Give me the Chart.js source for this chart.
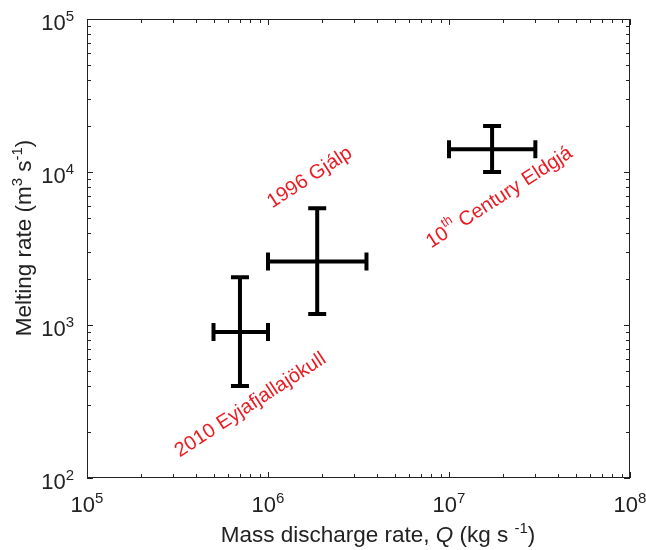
<!DOCTYPE html>
<html>
<head>
<meta charset="utf-8">
<script src="https://cdn.jsdelivr.net/npm/chart.js@4"></script>
<style>
  html, body { margin: 0; padding: 0; background: #fff; }
  #wrap { width: 646px; height: 550px; }
</style>
</head>
<body>
<div id="wrap"><canvas id="meltChart" width="646" height="550"></canvas></div>
<script>
// eruptions, mass discharge rate Q (kg/s) and melting rate (m3/s)
const events = ['2010 Eyjafjallajökull', '1996 Gjálp', '10th Century Eldgjá'];
const qMid = [7.0e5, 1.87e6, 1.73e7];
const qLow = [5.0e5, 1.0e6, 1.0e7];
const qHigh = [1.0e6, 3.5e6, 3.0e7];
const meltMid = [900, 2600, 14100];
const meltLow = [400, 1180, 10000];
const meltHigh = [2050, 5800, 20000];

// where the red event names sit, in data units
const labelQ = [8.0e5, 1.7e6, 1.9e7];
const labelMelt = [300, 9200, 6800];

const xTicks = [1e5, 1e6, 1e7, 1e8];
const yTicks = [1e2, 1e3, 1e4, 1e5];
const xTickLabels = [['10', '5'], ['10', '6'], ['10', '7'], ['10', '8']];
const yTickLabels = [['10', '2'], ['10', '3'], ['10', '4'], ['10', '5']];

const FONT = '"Liberation Sans", Arial, Helvetica, sans-serif';
const INK = '#222';
const RED = '#ec1c24';

function minorValues(min, max) {
    var out = [];
    for (var p = Math.floor(Math.log10(min)); p < Math.log10(max); p++) {
        for (var m = 2; m <= 9; m++) {
            var v = m * Math.pow(10, p);
            if (v > min && v < max) out.push(v);
        }
    }
    return out;
}

// pieces are [text, kind]: 'n' normal, 'i' italic, 's' superscript
function fontFor(kind, size) {
    if (kind === 's') return Math.round(size * 0.66) + 'px ' + FONT;
    if (kind === 'i') return 'italic ' + size + 'px ' + FONT;
    return size + 'px ' + FONT;
}
function pieceWidth(ctx, pieces, size) {
    var w = 0;
    pieces.forEach(function (p) {
        ctx.font = fontFor(p[1], size);
        w += ctx.measureText(p[0]).width;
    });
    return w;
}
function drawPieces(ctx, pieces, x, y, size) {
    pieces.forEach(function (p) {
        ctx.font = fontFor(p[1], size);
        var dy = p[1] === 's' ? -size * 0.42 : 0;
        ctx.fillText(p[0], x, y + dy);
        x += ctx.measureText(p[0]).width;
    });
}

const errorBars = {
    id: 'errorBars',
    afterDatasetsDraw(chart) {
        const ctx = chart.ctx, xs = chart.scales.x, ys = chart.scales.y;
        ctx.save();
        ctx.strokeStyle = '#000';
        ctx.lineWidth = 4;
        for (var i = 0; i < qMid.length; i++) {
            var cx = xs.getPixelForValue(qMid[i]), cy = ys.getPixelForValue(meltMid[i]);
            var x0 = xs.getPixelForValue(qLow[i]), x1 = xs.getPixelForValue(qHigh[i]);
            var y0 = ys.getPixelForValue(meltLow[i]), y1 = ys.getPixelForValue(meltHigh[i]);
            var cap = 9;
            ctx.beginPath();
            ctx.moveTo(x0, cy); ctx.lineTo(x1, cy);
            ctx.moveTo(x0, cy - cap); ctx.lineTo(x0, cy + cap);
            ctx.moveTo(x1, cy - cap); ctx.lineTo(x1, cy + cap);
            ctx.moveTo(cx, y0); ctx.lineTo(cx, y1);
            ctx.moveTo(cx - cap, y0); ctx.lineTo(cx + cap, y0);
            ctx.moveTo(cx - cap, y1); ctx.lineTo(cx + cap, y1);
            ctx.stroke();
        }
        ctx.restore();
    }
};

const frameAndText = {
    id: 'frameAndText',
    afterDraw(chart) {
        const ctx = chart.ctx, xs = chart.scales.x, ys = chart.scales.y;
        const a = chart.chartArea;
        ctx.save();
        ctx.strokeStyle = INK;
        ctx.lineWidth = 1;
        ctx.strokeRect(a.left + 0.5, a.top + 0.5, a.right - a.left - 1, a.bottom - a.top - 1);

        // inward ticks on all four sides
        ctx.beginPath();
        function xt(v, len) {
            var px = Math.round(xs.getPixelForValue(v)) + 0.5;
            ctx.moveTo(px, a.bottom); ctx.lineTo(px, a.bottom - len);
            ctx.moveTo(px, a.top); ctx.lineTo(px, a.top + len);
        }
        function yt(v, len) {
            var py = Math.round(ys.getPixelForValue(v)) + 0.5;
            ctx.moveTo(a.left, py); ctx.lineTo(a.left + len, py);
            ctx.moveTo(a.right, py); ctx.lineTo(a.right - len, py);
        }
        xTicks.forEach(function (v) { xt(v, 6); });
        minorValues(xTicks[0], xTicks[xTicks.length - 1]).forEach(function (v) { xt(v, 4); });
        yTicks.forEach(function (v) { yt(v, 6); });
        minorValues(yTicks[0], yTicks[yTicks.length - 1]).forEach(function (v) { yt(v, 4); });
        ctx.stroke();

        // tick labels
        ctx.fillStyle = INK;
        ctx.textBaseline = 'alphabetic';
        ctx.textAlign = 'left';
        var ts = 22;
        xTicks.forEach(function (v, i) {
            var pcs = [[xTickLabels[i][0], 'n'], [xTickLabels[i][1], 's']];
            var w = pieceWidth(ctx, pcs, ts);
            drawPieces(ctx, pcs, xs.getPixelForValue(v) - w / 2, a.bottom + 34, ts);
        });
        yTicks.forEach(function (v, i) {
            var pcs = [[yTickLabels[i][0], 'n'], [yTickLabels[i][1], 's']];
            var w = pieceWidth(ctx, pcs, ts);
            drawPieces(ctx, pcs, a.left - 13 - w, ys.getPixelForValue(v) + 11, ts);
        });

        // axis titles
        var as = 22.5;
        var xt1 = [['Mass discharge rate, ', 'n'], ['Q', 'i'], [' (kg s ', 'n'], ['-1', 's'], [')', 'n']];
        var w1 = pieceWidth(ctx, xt1, as);
        drawPieces(ctx, xt1, 378 - w1 / 2, 542, as);

        var yt1 = [['Melting rate (m', 'n'], ['3', 's'], [' s', 'n'], ['-1', 's'], [')', 'n']];
        var w2 = pieceWidth(ctx, yt1, as);
        ctx.save();
        ctx.translate(31, 238);
        ctx.rotate(-Math.PI / 2);
        drawPieces(ctx, yt1, -w2 / 2, 0, as);
        ctx.restore();

        // red event names along the diagonal
        ctx.fillStyle = RED;
        ctx.textBaseline = 'middle';
        var ls = 20;
        var names = [
            [['2010 Eyjafjallajökull', 'n']],
            [['1996 Gjálp', 'n']],
            [['10', 'n'], ['th', 's'], [' Century Eldgjá', 'n']]
        ];
        names.forEach(function (pcs, i) {
            var w = pieceWidth(ctx, pcs, ls);
            ctx.save();
            ctx.translate(xs.getPixelForValue(labelQ[i]), ys.getPixelForValue(labelMelt[i]));
            ctx.rotate(-33 * Math.PI / 180);
            drawPieces(ctx, pcs, -w / 2, 0, ls);
            ctx.restore();
        });
        ctx.restore();
    }
};

new Chart(document.getElementById('meltChart'), {
    type: 'scatter',
    data: {
        labels: events,
        datasets: [
            {
                data: qMid.map(function (q, i) { return { x: q, y: meltMid[i] }; }),
                pointRadius: 0,
                showLine: false
            }
        ]
    },
    options: {
        responsive: false,
        animation: false,
        layout: { padding: { left: 87, right: 16, top: 19, bottom: 72 } },
        plugins: {
            legend: { display: false },
            tooltip: { enabled: false }
        },
        scales: {
            x: { type: 'logarithmic', min: 1e5, max: 1e8, display: false },
            y: { type: 'logarithmic', min: 1e2, max: 1e5, display: false }
        }
    },
    plugins: [errorBars, frameAndText]
});
</script>
</body>
</html>
